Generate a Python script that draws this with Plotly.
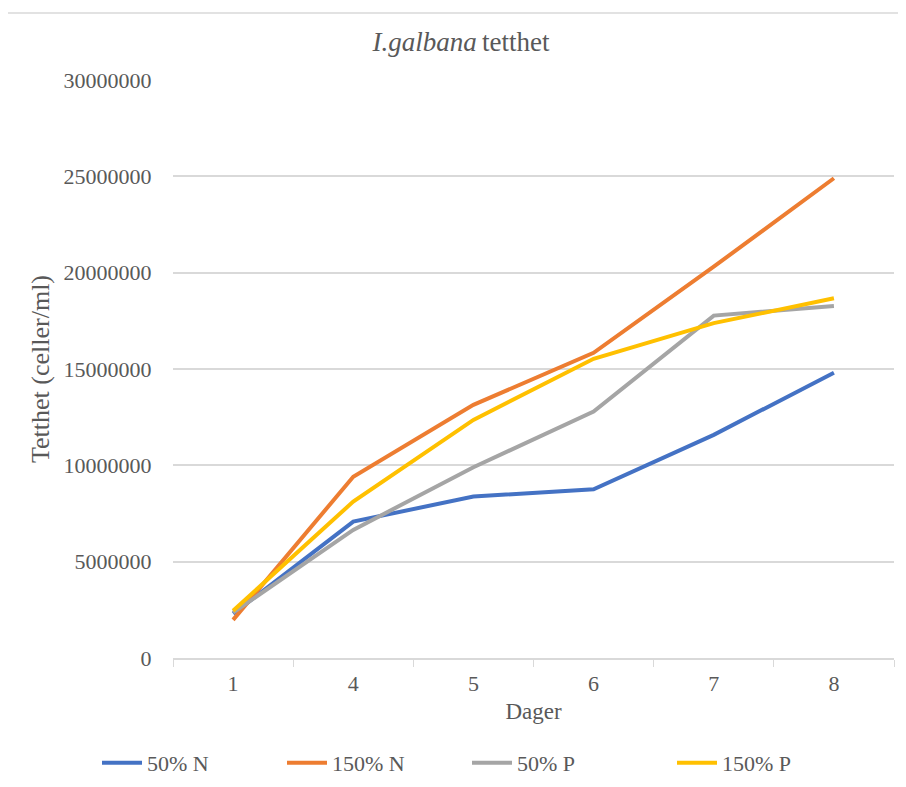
import plotly.graph_objects as go

days = ["1", "4", "5", "6", "7", "8"]
n50 = [2300000, 7080000, 8380000, 8760000, 11580000, 14810000]
n150 = [1980000, 9410000, 13140000, 15840000, 20310000, 24900000]
p50 = [2350000, 6650000, 9900000, 12790000, 17770000, 18270000]
p150 = [2450000, 8120000, 12360000, 15530000, 17380000, 18670000]
series_names = ["50% N", "150% N", "50% P", "150% P"]
series_colors = ["#4472C4", "#ED7D31", "#A5A5A5", "#FFC000"]

FONT = "Liberation Serif, Times New Roman, serif"
TXT = "#595959"

W, H = 906, 787
OFF = 8  # page body margin
# plot area in page pixels
PL, PR, PT, PB = 173, 894, 80, 658
L, T = PL - OFF, PT - OFF
R, B = W - (PR - OFF), H - (PB - OFF)
pw, ph = PR - PL, PB - PT

def px_x(p):
    return (p - PL) / pw

def px_y(p):
    return (PB - p) / ph

legend_ids = ["legend", "legend2", "legend3", "legend4"]
legend_px = [97, 282, 467, 672]

fig = go.Figure()
for name, vals, col, lid in zip(series_names, [n50, n150, p50, p150], series_colors, legend_ids):
    fig.add_trace(go.Scatter(x=days, y=vals, name=name, mode="lines", legend=lid,
                             line=dict(color=col, width=4)))

legend_common = dict(orientation="h", xanchor="left", yanchor="middle", y=px_y(763),
                     font=dict(size=22, color=TXT), bgcolor="rgba(0,0,0,0)", itemwidth=40)
legends = {}
for lid, lx in zip(legend_ids, legend_px):
    legends[lid] = dict(legend_common, x=px_x(lx))

fig.update_layout(
    width=W, height=H,
    margin=dict(l=L, r=R, t=T, b=B, autoexpand=False),
    paper_bgcolor="white", plot_bgcolor="white",
    font=dict(family=FONT, size=22, color=TXT),
    title=dict(text="<i>I.galbana</i>\u2009tetthet", font=dict(size=27, color=TXT),
               xref="container", x=(461 - OFF) / W, xanchor="center",
               yref="container", y=1 - (42 - OFF) / H, yanchor="middle"),
    xaxis=dict(type="category", range=[-0.5, 5.5], showgrid=False, showline=True,
               linecolor="#D9D9D9", linewidth=1.5, ticks="outside", tickson="boundaries",
               ticklen=7, tickcolor="#D9D9D9", ticklabelstandoff=5,
               tickfont=dict(size=22, color=TXT),
               title=dict(text="Dager", font=dict(size=23, color=TXT), standoff=8),
               zeroline=False),
    yaxis=dict(range=[0, 30000000], dtick=5000000, tickformat="d",
               showgrid=True, gridcolor="#D9D9D9", gridwidth=1.5, zeroline=False,
               showline=False, ticks="outside", ticklen=16, tickcolor="rgba(0,0,0,0)",
               tickfont=dict(size=22, color=TXT),
               title=dict(text="Tetthet (celler/ml)", font=dict(size=26, color=TXT), standoff=6)),
    shapes=[dict(type="rect", xref="paper", yref="paper",
                 x0=px_x(5), x1=px_x(915), y0=px_y(800), y1=px_y(13),
                 line=dict(color="#D9D9D9", width=1.5), fillcolor="rgba(0,0,0,0)", layer="below")],
    showlegend=True,
    **legends,
)

fig.write_html("out.html")
